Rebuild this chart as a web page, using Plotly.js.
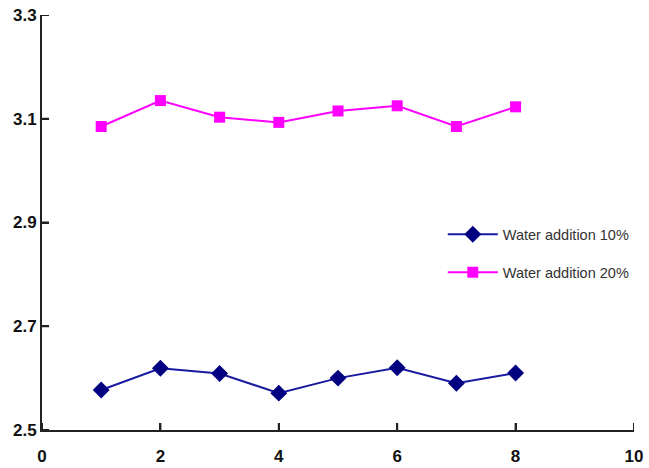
<!DOCTYPE html>
<html>
<head>
<meta charset="utf-8">
<script src="https://cdn.plot.ly/plotly-3.0.1.min.js"></script>
<style>html,body{margin:0;padding:0;background:#fff;}#chart{width:649px;height:468px;}</style>
</head>
<body>
<div id="chart"></div>
<script>
const samples = [1, 2, 3, 4, 5, 6, 7, 8];
const water10 = [2.577, 2.619, 2.609, 2.571, 2.600, 2.620, 2.590, 2.610];
const water20 = [3.085, 3.135, 3.103, 3.093, 3.115, 3.125, 3.085, 3.123];
const seriesNames = ['Water addition 10%', 'Water addition 20%'];
const xTicks = [0, 2, 4, 6, 8, 10];
const yTicks = [2.5, 2.7, 2.9, 3.1, 3.3];

const traces = [
  {x: samples, y: water10, name: seriesNames[0], mode: 'lines+markers', legendgroup: 'a',
   line: {color: '#1a1aa0', width: 2}, marker: {symbol: 'diamond', size: 13, color: '#000080'}},
  {x: samples, y: water20, name: seriesNames[1], mode: 'lines+markers', legendgroup: 'b',
   line: {color: '#ff00ff', width: 2}, marker: {symbol: 'square', size: 11, color: '#ff00ff'}}
];

// inward tick marks, built from the tick arrays
const tickLine = {color: '#222', width: 2};
const tickShapes = []
  .concat(xTicks.map(v => ({type: 'line', xref: 'x', yref: 'paper', ysizemode: 'pixel', yanchor: 0,
                            x0: v, x1: v, y0: 0, y1: 7, line: tickLine})))
  .concat(yTicks.map(v => ({type: 'line', xref: 'paper', yref: 'y', xsizemode: 'pixel', xanchor: 0,
                            y0: v, y1: v, x0: 0, x1: 7, line: tickLine})));

const axisFont = {family: 'Liberation Sans, Arial, sans-serif', size: 17, color: '#111', weight: 'bold'};
const layout = {
  width: 649, height: 468,
  margin: {l: 42, r: 15, t: 15, b: 38},
  paper_bgcolor: '#fff', plot_bgcolor: '#fff',
  showlegend: true,
  shapes: tickShapes,
  legend: {x: 0.677, y: 0.510, xanchor: 'left', yanchor: 'top', bgcolor: 'rgba(0,0,0,0)',
           traceorder: 'grouped', tracegroupgap: 16, itemwidth: 50,
           font: {family: 'Liberation Sans, Arial, sans-serif', size: 14.5, color: '#333'}},
  xaxis: {range: [0, 10], tickvals: xTicks, ticktext: xTicks.map(String), showgrid: false, zeroline: false,
          showline: true, linecolor: '#222', linewidth: 2, ticks: 'inside', ticklen: 7, tickwidth: 2, tickcolor: '#222',
          tickfont: axisFont, ticklabelstandoff: 10},
  yaxis: {range: [2.5, 3.3], tickvals: yTicks, ticktext: yTicks.map(v => v.toFixed(1)), showgrid: false, zeroline: false,
          showline: true, linecolor: '#222', linewidth: 2, ticks: 'inside', ticklen: 7, tickwidth: 2, tickcolor: '#222',
          tickfont: axisFont}
};
Plotly.newPlot('chart', traces, layout, {displayModeBar: false, staticPlot: true});
</script>
</body>
</html>
